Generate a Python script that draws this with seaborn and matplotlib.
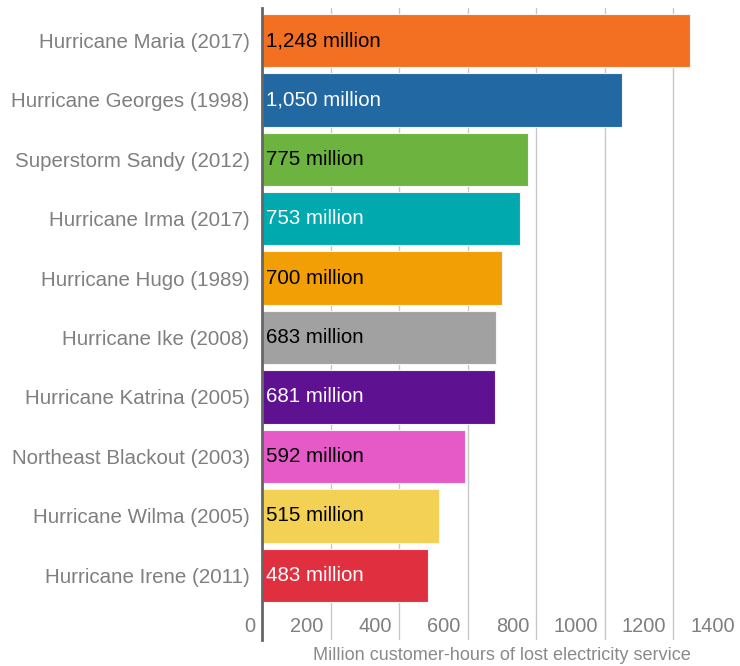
import matplotlib
matplotlib.use("Agg")
import matplotlib.pyplot as plt
import matplotlib.transforms as mtransforms
import seaborn as sns
import pandas as pd

events = ["Hurricane Maria (2017)", "Hurricane Georges (1998)", "Superstorm Sandy (2012)",
          "Hurricane Irma (2017)", "Hurricane Hugo (1989)", "Hurricane Ike (2008)",
          "Hurricane Katrina (2005)", "Northeast Blackout (2003)", "Hurricane Wilma (2005)",
          "Hurricane Irene (2011)"]
values = [1248, 1050, 775, 753, 700, 683, 681, 592, 515, 483]
bar_labels = ["1,248 million", "1,050 million", "775 million", "753 million", "700 million",
              "683 million", "681 million", "592 million", "515 million", "483 million"]
colors = ["#F37022", "#2268A2", "#6DB33F", "#00A9AD", "#F29E05", "#A1A1A1",
          "#5E1191", "#E55AC6", "#F2D154", "#E0303F"]
text_colors = ["black", "white", "black", "white", "black", "black", "white",
               "black", "black", "white"]
xticks = [0, 200, 400, 600, 800, 1000, 1200, 1400]
xlabel = "Million customer-hours of lost electricity service"

df = pd.DataFrame({"event": events, "value": values})

sns.set_style("white")
plt.rcParams["font.family"] = ["Liberation Sans", "DejaVu Sans"]

fig = plt.figure(figsize=(7.4, 6.66), dpi=100)
ax = fig.add_axes([262 / 740, 26 / 666, 480 / 740, 632 / 666])

sns.barplot(data=df, x="value", y="event", hue="event", palette=colors, legend=False,
            orient="h", width=0.9, ax=ax, edgecolor="#f4f4f4", linewidth=0.8,
            saturation=1, zorder=3)

ax.set_xlim(0, 1400)
ax.set_ylim(10.09, -0.547)

# gridlines
for t in xticks[1:-1]:
    ax.axvline(t, color="#c8c8c8", lw=1.0, zorder=1)

for s in ["top", "right", "bottom"]:
    ax.spines[s].set_visible(False)
ax.spines["left"].set_color("#666666")
ax.spines["left"].set_linewidth(2)
ax.spines["left"].set_zorder(5)

ax.set_xticks([])
ax.tick_params(axis="y", length=0, pad=9, labelsize=14.8, labelcolor="#7f7f7f")
ax.set_ylabel("")
ax.set_xlabel("")

# value labels inside bars
for i, (v, lab, tc) in enumerate(zip(values, bar_labels, text_colors)):
    ax.annotate(lab, xy=(0, i), xytext=(3, 0), textcoords="offset points",
                ha="left", va="center", fontsize=14.8, color=tc, zorder=6)

# x tick labels drawn inside the extended axis area
off = mtransforms.ScaledTranslation(-7 / 100, 0, fig.dpi_scale_trans)
for t in xticks:
    ax.text(t, 14 / 632, f"{t}", transform=ax.get_xaxis_transform() + off,
            ha="right", va="center", fontsize=14.4, color="#7f7f7f")

fig.text(502 / 740, 1 - 655 / 666, xlabel, ha="center", va="center",
         fontsize=13.1, color="#8a8a8a")

fig.savefig("out.png", dpi=100)
